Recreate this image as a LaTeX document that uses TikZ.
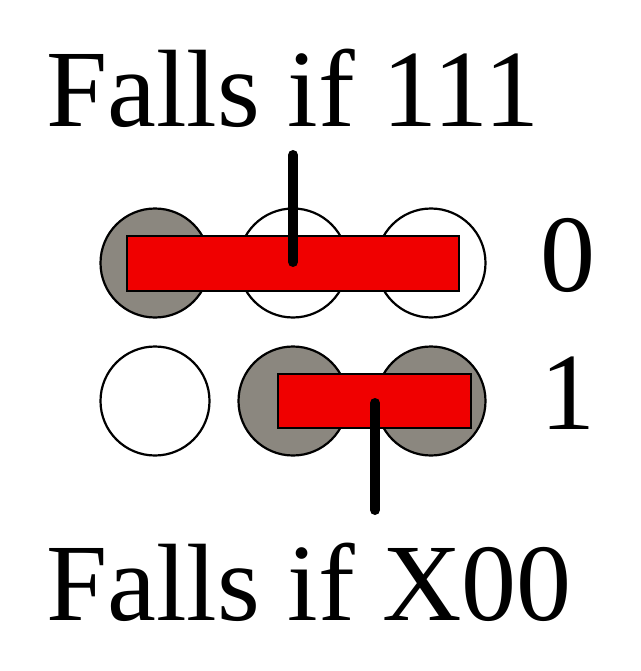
\documentclass[tikz,border=0pt]{standalone}
\usepackage{fontspec}
\setmainfont{Liberation Serif}
\definecolor{peg}{RGB}{139,135,127}
\definecolor{barred}{RGB}{240,0,0}
\begin{document}
\begin{tikzpicture}[x=1pt,y=-1pt,
  hole/.style={circle,draw=black,line width=2.2pt,minimum size=109pt,inner sep=0pt},
  filled/.style={hole,fill=peg},
  empty/.style={hole,fill=white},
  bar/.style={draw=black,fill=barred,line width=2.5pt},
  lever/.style={line width=10pt,line cap=round},
  lbl/.style={inner sep=0pt,anchor=base west,font=\fontsize{110}{120}\selectfont}]
\useasboundingbox (0,0) rectangle (640,671);
% row 0
\node[filled] (a1) at (155,263) {};
\node[empty]  (a2) at (293,263) {};
\node[empty]  (a3) at (431,263) {};
% row 1
\node[empty]  (b1) at (155,401) {};
\node[filled] (b2) at (293,401) {};
\node[filled] (b3) at (431,401) {};
% bars
\path[bar] (127,236) rectangle (459,291);
\path[bar] (278,374) rectangle (471,428);
% levers
\coordinate (t1) at (293,155);
\coordinate (t2) at (293,262);
\coordinate (u1) at (375,403);
\coordinate (u2) at (375,510);
\draw[lever] (t1) -- (t2);
\draw[lever] (u1) -- (u2);
% labels
\node[lbl] (top) at (46,127) {Falls if 111};
\node[lbl] (bot) at (46,620) {Falls if X00};
\node[lbl] (z) at (540,291) {0};
\node[lbl] (o) at (540,429) {1};
\end{tikzpicture}
\end{document}
